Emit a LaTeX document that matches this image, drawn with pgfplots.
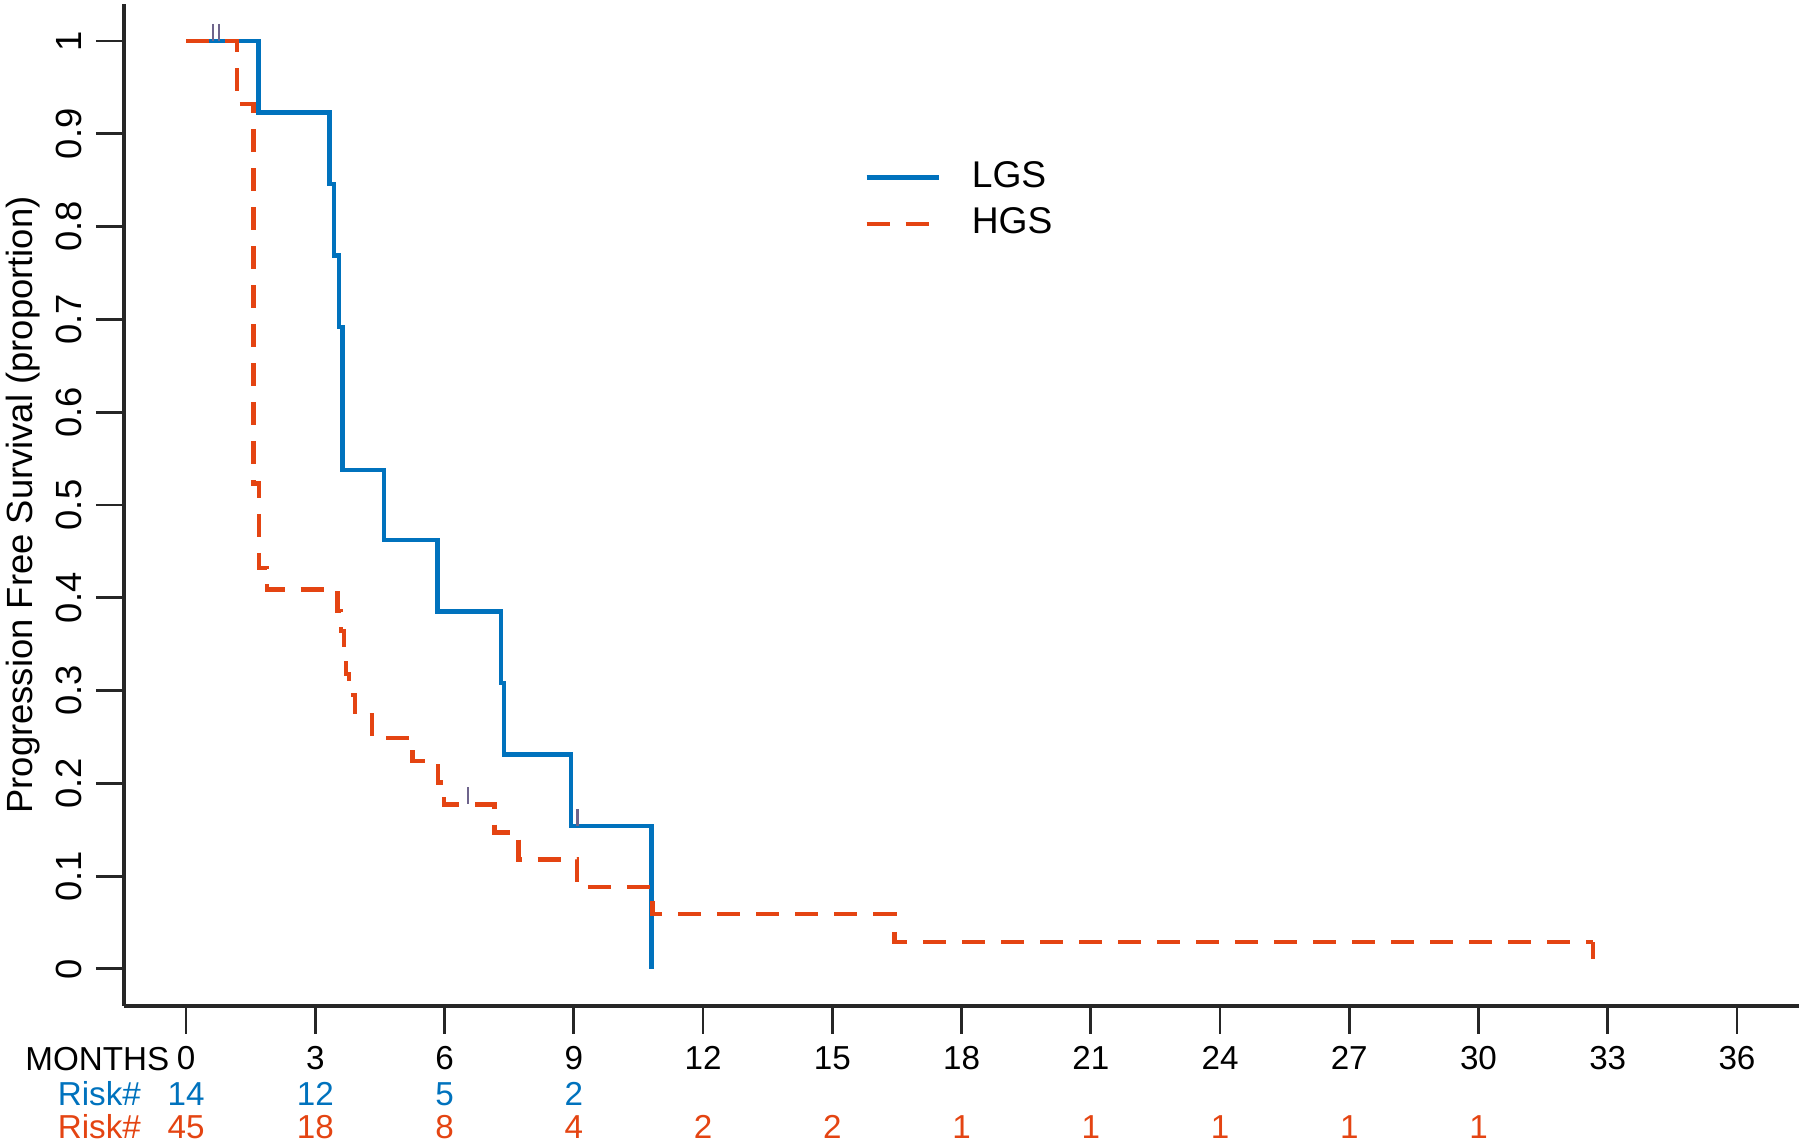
\documentclass[border=0pt]{standalone}
\usepackage{fontspec}
\setmainfont{Liberation Sans}
\usepackage{pgfplots}
\pgfplotsset{compat=1.18}

\definecolor{lgs}{RGB}{0,114,189}
\definecolor{hgs}{RGB}{228,68,18}
\definecolor{cens}{RGB}{110,100,140}

\newcommand{\hfont}{\fontsize{8.3}{10}\selectfont}
\newcommand{\vfont}{\fontsize{9.1}{11}\selectfont}

\begin{document}
\begin{tikzpicture}
\begin{axis}[
  at={(0,0)}, anchor=south west,
  scale only axis, width=418.75pt, height=250.5pt,
  xmin=-1.44, xmax=37.44, ymin=-0.04, ymax=1.04,
  axis x line*=bottom, axis y line*=left,
  axis line style={-, line width=0.8pt, black!85},
  xtick={0,3,...,36},
  ytick={0,0.1,0.2,0.3,0.4,0.5,0.6,0.7,0.8,0.9,1},
  xtick pos=left, ytick pos=left,
  tick align=outside, major tick length=7pt,
  tick style={line width=0.7pt, black!85},
  /pgf/number format/assume math mode=true,
  xticklabel style={font=\hfont, anchor=base, inner sep=0pt, yshift=-9pt},
  yticklabel style={font=\vfont, rotate=90, anchor=south},
  ylabel={Progression Free Survival (proportion)},
  ylabel style={font=\vfont, at={(axis description cs:-0.0549,0.5)}, rotate=0, anchor=base},
  clip=false,
  legend style={draw=none, fill=none, at={(axis cs:15.45,0.828)}, anchor=west,
    font=\fontsize{9.3}{11}\selectfont, row sep=3.6pt, column sep=7.75pt,
    nodes={inner sep=0pt}},
  legend cell align=left,
  legend image code/.code={\draw[#1] (0pt,0pt) -- (18pt,0pt);},
]
\addplot[const plot, lgs, line width=1.1pt] coordinates {
  (0,1) (1.68,0.923) (3.33,0.846) (3.43,0.769) (3.55,0.692) (3.63,0.538)
  (4.60,0.462) (5.84,0.385) (7.31,0.308) (7.38,0.231) (8.93,0.154) (10.80,0)
};
\addlegendentry{LGS}
\addplot[const plot, hgs, line width=1.1pt, dash pattern=on 5.75pt off 4pt] coordinates {
  (0,1) (1.18,0.932) (1.57,0.523) (1.70,0.432) (1.88,0.409) (3.52,0.386)
  (3.60,0.364) (3.66,0.341) (3.71,0.318) (3.78,0.295) (3.92,0.273) (4.31,0.249)
  (5.26,0.224) (5.85,0.201) (5.99,0.177) (7.16,0.147) (7.72,0.118) (9.08,0.088)
  (10.83,0.059) (16.44,0.029) (32.66,0.029)
};
\addlegendentry{HGS}
% censoring ticks
\addplot[only marks, mark=|, mark size=2.1pt, mark options={solid, line width=0.6pt, cens}, forget plot]
  coordinates {(0.63,1.0095) (0.77,1.0095) (9.09,0.1635) (6.54,0.1865)};
\addplot[only marks, mark=|, mark size=2.1pt, mark options={solid, line width=0.9pt, hgs}, forget plot]
  coordinates {(32.66,0.0195)};

% risk table
\node[font=\hfont, anchor=base east, inner sep=0pt] at (axis cs:-0.37,-0.109) {MONTHS};
\node[font=\hfont, anchor=base east, inner sep=0pt, text=lgs] at (axis cs:-1.03,-0.147) {Risk\#};
\node[font=\hfont, anchor=base east, inner sep=0pt, text=hgs] at (axis cs:-1.03,-0.183) {Risk\#};
\node[font=\hfont, anchor=base, text=lgs] at (axis cs:0,-0.147) {14};
\node[font=\hfont, anchor=base, text=lgs] at (axis cs:3,-0.147) {12};
\node[font=\hfont, anchor=base, text=lgs] at (axis cs:6,-0.147) {5};
\node[font=\hfont, anchor=base, text=lgs] at (axis cs:9,-0.147) {2};
\node[font=\hfont, anchor=base, text=hgs] at (axis cs:0,-0.183) {45};
\node[font=\hfont, anchor=base, text=hgs] at (axis cs:3,-0.183) {18};
\node[font=\hfont, anchor=base, text=hgs] at (axis cs:6,-0.183) {8};
\node[font=\hfont, anchor=base, text=hgs] at (axis cs:9,-0.183) {4};
\node[font=\hfont, anchor=base, text=hgs] at (axis cs:12,-0.183) {2};
\node[font=\hfont, anchor=base, text=hgs] at (axis cs:15,-0.183) {2};
\node[font=\hfont, anchor=base, text=hgs] at (axis cs:18,-0.183) {1};
\node[font=\hfont, anchor=base, text=hgs] at (axis cs:21,-0.183) {1};
\node[font=\hfont, anchor=base, text=hgs] at (axis cs:24,-0.183) {1};
\node[font=\hfont, anchor=base, text=hgs] at (axis cs:27,-0.183) {1};
\node[font=\hfont, anchor=base, text=hgs] at (axis cs:30,-0.183) {1};
\end{axis}
\pgfresetboundingbox
\path (-31pt,-34.75pt) rectangle (419pt,251.5pt);
\end{tikzpicture}
\end{document}
